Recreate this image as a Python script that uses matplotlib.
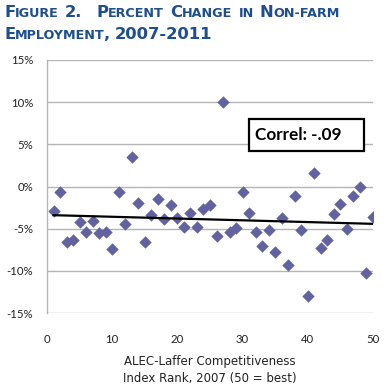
import matplotlib
matplotlib.use("Agg")
import matplotlib.pyplot as plt
import numpy as np
from matplotlib.patches import Rectangle
from matplotlib.ticker import FuncFormatter

plt.rcParams['font.family'] = ['Lato', 'DejaVu Sans']

ranks = list(range(1, 51))
pct_change = [-2.85, -0.6, -6.6, -6.35, -4.2, -5.4, -4.05, -5.5, -5.35, -7.45,
              -0.6, -4.45, 3.45, -2.0, -6.55, -3.4, -1.45, -3.8, -2.2, -3.75,
              -4.75, -3.1, -4.75, -2.7, -2.15, -5.9, 10.0, -5.45, -4.9, -0.6,
              -3.2, -5.43, -7.0, -5.15, -7.73, -3.7, -9.3, -1.1, -5.15, -13.0,
              1.6, -7.33, -6.4, -3.29, -2.1, -5.07, -1.1, -0.08, -10.2, -3.57]
x_ticks = [0, 10, 20, 30, 40, 50]
y_ticks = [-15, -10, -5, 0, 5, 10, 15]
correl_label = "Correl: -.09"
x_label = "ALEC-Laffer Competitiveness\nIndex Rank, 2007 (50 = best)"
# title words in small caps: (piece, is_big_cap)
title_line1 = [[("F", 1), ("IGURE", 0)], [("2.", 1)], [("P", 1), ("ERCENT", 0)],
               [("C", 1), ("HANGE", 0)], [("IN", 0)], [("N", 1), ("ON-FARM", 0)]]
title_line2 = [[("E", 1), ("MPLOYMENT", 0), (",", 1)], [("2007-2011", 1)]]

W, H, DPI = 391, 391, 100
fig = plt.figure(figsize=(W / DPI, H / DPI), dpi=DPI)
ax = fig.add_axes([47 / W, 1 - 313 / H, (373 - 47) / W, (313 - 60) / H])

ax.scatter(ranks, pct_change, marker='D', s=6.3 ** 2, color='#6262a0',
           linewidths=0, zorder=3)

coef = np.polyfit(ranks, pct_change, 1)
xl = np.array([ranks[0], ranks[-1]])
ax.plot(xl, np.polyval(coef, xl), color='black', lw=1.6, zorder=4)

ax.set_xlim(0, 50)
ax.set_ylim(-15, 15)
ax.set_xticks(x_ticks)
ax.set_yticks(y_ticks)
ax.yaxis.set_major_formatter(FuncFormatter(lambda v, p: f"{int(v)}%"))
ax.tick_params(length=0, labelsize=8.2, colors='#222222')
ax.tick_params(axis='y', pad=10)
ax.tick_params(axis='x', pad=15)
ax.grid(axis='y', color='#b4b4b4', lw=1.0)
ax.set_axisbelow(True)
for s in ['top', 'right', 'bottom']:
    ax.spines[s].set_visible(False)
ax.spines['left'].set_color('#b4b4b4')
ax.spines['left'].set_linewidth(1.0)

ax.set_xlabel(x_label, fontsize=8.5, labelpad=7, linespacing=1.4,
              family=['DejaVu Sans'], color='#222222')

# Correlation box
ax.add_patch(Rectangle((31.0, 4.2), 17.6, 3.8, facecolor='white',
                       edgecolor='black', lw=1.6, zorder=5))
ax.text(31.9, 6.1, correl_label, fontsize=12.3, fontweight='bold',
        va='center', ha='left', zorder=6)

# Small caps title
fig.canvas.draw()
renderer = fig.canvas.get_renderer()
title_color = '#1f4e8e'
title_font = ['DejaVu Sans']
big, small = 11.8, 9.2


def piece_width(txt, fs):
    t = fig.text(0, 0, txt, fontsize=fs, family=title_font, fontweight='bold')
    w = t.get_window_extent(renderer=renderer).width
    t.remove()
    return w


def draw_words(words, x0, x1, y0, gap_weights, min_gap):
    widths = [[piece_width(txt, big if b else small) for txt, b in wd] for wd in words]
    total = sum(sum(w) for w in widths)
    gap = max((x1 - x0 - total) / sum(gap_weights), min_gap)
    x = x0
    for i, wd in enumerate(words):
        for (txt, b), w in zip(wd, widths[i]):
            if txt == ",":
                x -= 1.5
            fig.text(x / W, 1 - y0 / H, txt, fontsize=big if b else small,
                     family=title_font, fontweight='bold', color=title_color,
                     ha='left', va='baseline')
            x += w
        if i < len(gap_weights):
            x += gap * gap_weights[i]


draw_words(title_line1, 4, 340, 17, [1, 2.2, 1, 1, 1], 3.5)
draw_words(title_line2, 4, 207, 39, [1], 5.0)

fig.savefig("out.png", dpi=DPI)
